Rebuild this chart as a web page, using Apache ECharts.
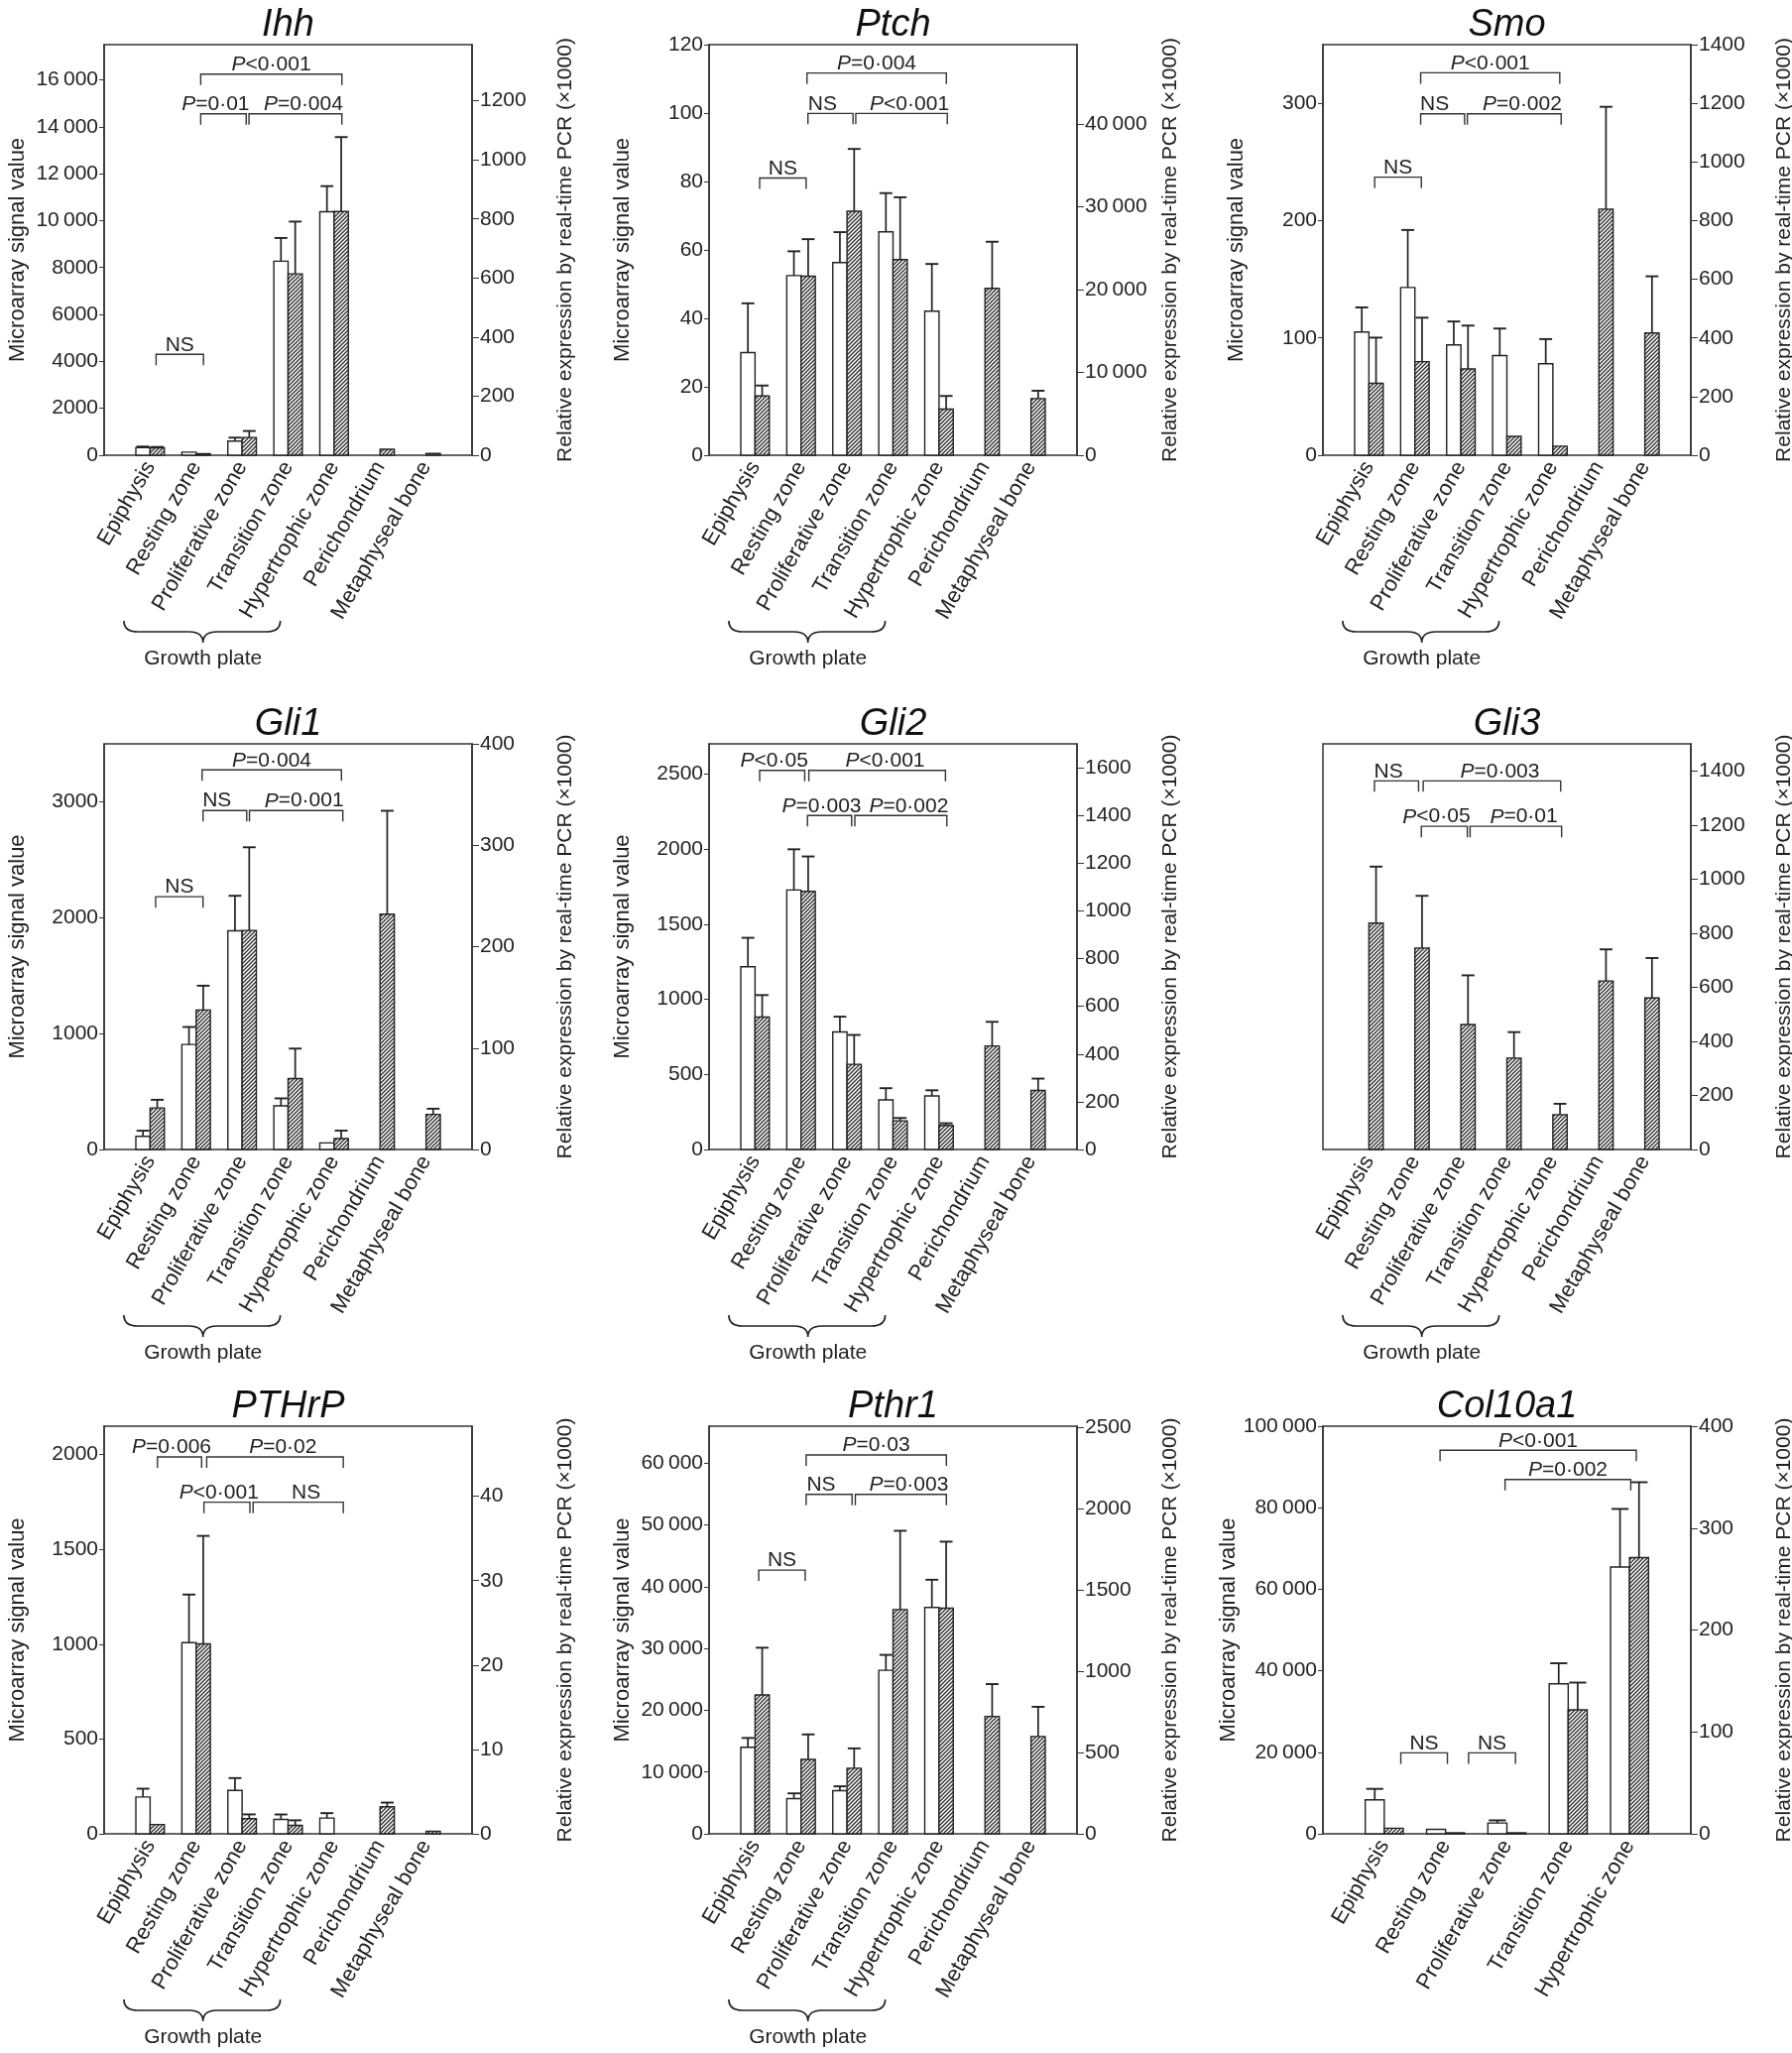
<!DOCTYPE html>
<html>
<head>
<meta charset="utf-8">
<script src="https://cdn.jsdelivr.net/npm/echarts@6/dist/echarts.min.js"></script>
<style>
html, body { margin: 0; background: #fff; }
#chart { width: 1807px; height: 2070px; }
</style>
</head>
<body>
<div id="chart"></div>
<script>
// categories
const zones7 = ['Epiphysis', 'Resting zone', 'Proliferative zone', 'Transition zone', 'Hypertrophic zone', 'Perichondrium', 'Metaphyseal bone'];
const zones5 = zones7.slice(0, 5);

// Ihh : microarray (white, left axis) / real-time PCR (hatched, right axis), mean and SD
const ihhArray = [330, 130, 600, 8270, 10380, null, null];
const ihhArraySd = [40, 0, 150, 990, 1090, null, null];
const ihhPcr = [25, 5, 60, 614, 825, 20, 6];
const ihhPcrSd = [3, 0, 22, 177, 252, 0, 0];
const ihhLeftTicks = [0, 2000, 4000, 6000, 8000, 10000, 12000, 14000, 16000];
const ihhRightTicks = [0, 200, 400, 600, 800, 1000, 1200];
const ihhBrackets = [[1.13, 2.16, 4300, 'NS'], [2.10, 3.09, 14550, 'P=0·01'], [3.15, 5.17, 14550, 'P=0·004'], [2.10, 5.17, 16240, 'P<0·001']];

// Ptch
const ptchArray = [30.0, 52.5, 56.3, 65.3, 42.1, null, null];
const ptchArraySd = [14.4, 7.1, 8.9, 11.3, 13.8, null, null];
const ptchPcr = [7160, 21630, 29470, 23630, 5580, 20160, 6840];
const ptchPcrSd = [1260, 4470, 7530, 7530, 1580, 5630, 950];
const ptchLeftTicks = [0, 20, 40, 60, 80, 100, 120];
const ptchRightTicks = [0, 10000, 20000, 30000, 40000];
const ptchBrackets = [[1.10, 2.11, 81, 'NS'], [2.15, 3.13, 99.9, 'NS'], [3.19, 5.18, 99.9, 'P<0·001'], [2.13, 5.16, 111.7, 'P=0·004']];

// Smo
const smoArray = [105, 143, 94, 85, 78, null, null];
const smoArraySd = [21, 49, 20, 23, 21, null, null];
const smoPcr = [245, 319, 294, 64, 31, 839, 417];
const smoPcrSd = [156, 150, 148, 0, 0, 349, 193];
const smoLeftTicks = [0, 100, 200, 300];
const smoRightTicks = [0, 200, 400, 600, 800, 1000, 1200, 1400];
const smoBrackets = [[1.125, 2.14, 237, 'NS'], [2.125, 3.08, 291, 'NS'], [3.14, 5.18, 291, 'P=0·002'], [2.125, 5.15, 326, 'P<0·001']];

// Gli1
const gli1Array = [113, 906, 1887, 377, 57, null, null];
const gli1ArraySd = [49, 151, 302, 64, 0, null, null];
const gli1Pcr = [41, 137.5, 216, 70, 10.8, 232, 34.6];
const gli1PcrSd = [8, 24, 82, 29.5, 7.8, 102, 5.6];
const gli1LeftTicks = [0, 1000, 2000, 3000];
const gli1RightTicks = [0, 100, 200, 300, 400];
const gli1Brackets = [[1.12, 2.15, 2181, 'NS'], [2.15, 3.10, 2925, 'NS'], [3.16, 5.19, 2925, 'P=0·001'], [2.13, 5.16, 3275, 'P=0·004']];

// Gli2
const gli2Array = [1216, 1727, 782, 330, 356, null, null];
const gli2ArraySd = [193, 271, 102, 78, 38, null, null];
const gli2Pcr = [555, 1082, 357, 120, 101, 434, 247];
const gli2PcrSd = [92, 146, 123, 12, 9, 101, 50];
const gli2LeftTicks = [0, 500, 1000, 1500, 2000, 2500];
const gli2RightTicks = [0, 200, 400, 600, 800, 1000, 1200, 1400, 1600];
const gli2Brackets = [[1.10, 2.08, 2523, 'P<0·05'], [2.17, 5.14, 2523, 'P<0·001'], [2.14, 3.10, 2223, 'P=0·003'], [3.17, 5.17, 2223, 'P=0·002']];

// Gli3 (PCR only)
const gli3Array = [null, null, null, null, null, null, null];
const gli3ArraySd = [null, null, null, null, null, null, null];
const gli3Pcr = [837, 745, 462, 338, 129, 623, 560];
const gli3PcrSd = [209, 193, 182, 96, 40, 117, 148];
const gli3LeftTicks = [];
const gli3RightTicks = [0, 200, 400, 600, 800, 1000, 1200, 1400];
const gli3Brackets = [[1.12, 2.08, 1363, 'NS'], [2.18, 5.17, 1363, 'P=0·003'], [2.14, 3.14, 1195, 'P<0·05'], [3.20, 5.19, 1195, 'P=0·01']];

// PTHrP
const pthrpArray = [194, 1008, 229, 76, 83, null, null];
const pthrpArraySd = [44, 254, 65, 26, 26, null, null];
const pthrpPcr = [1.1, 22.5, 1.8, 1.0, null, 3.2, 0.3];
const pthrpPcrSd = [0, 12.8, 0.5, 0.6, null, 0.5, 0];
const pthrpLeftTicks = [0, 500, 1000, 1500, 2000];
const pthrpRightTicks = [0, 10, 20, 30, 40];
const pthrpBrackets = [[1.16, 2.12, 1988, 'P=0·006'], [2.23, 5.20, 1988, 'P=0·02'], [2.17, 3.17, 1749, 'P<0·001'], [3.24, 5.20, 1749, 'NS']];

// Pthr1
const pthr1Array = [14020, 5690, 6980, 26480, 36660, null, null];
const pthr1ArraySd = [1500, 860, 710, 2490, 4480, null, null];
const pthr1Pcr = [855, 458, 404, 1381, 1389, 723, 599];
const pthr1PcrSd = [291, 154, 122, 485, 410, 199, 183];
const pthr1LeftTicks = [0, 10000, 20000, 30000, 40000, 50000, 60000];
const pthr1RightTicks = [0, 500, 1000, 1500, 2000, 2500];
const pthr1Brackets = [[1.08, 2.09, 42700, 'NS'], [2.11, 3.11, 54950, 'NS'], [3.18, 5.16, 54950, 'P=0·003'], [2.11, 5.16, 61350, 'P=0·03']];

// Col10a1
const col10Array = [8330, 1100, 2650, 36800, 65450];
const col10ArraySd = [2700, 0, 650, 5045, 14250];
const col10Pcr = [5.5, 1, 1, 121.7, 271];
const col10PcrSd = [0, 0, 0, 26.7, 74];
const col10LeftTicks = [0, 20000, 40000, 60000, 80000, 100000];
const col10RightTicks = [0, 100, 200, 300, 400];
const col10Brackets = [[1.27, 2.03, 19850, 'NS'], [2.375, 3.14, 19850, 'NS'], [2.97, 5.02, 86910, 'P=0·002'], [1.91, 5.11, 94100, 'P<0·001']];

const panels = [
  { title: 'Ihh', cats: zones7, arr: ihhArray, arrSd: ihhArraySd, pcr: ihhPcr, pcrSd: ihhPcrSd, lMax: 17500, rMax: 1390, lTicks: ihhLeftTicks, rTicks: ihhRightTicks, brackets: ihhBrackets, brace: true },
  { title: 'Ptch', cats: zones7, arr: ptchArray, arrSd: ptchArraySd, pcr: ptchPcr, pcrSd: ptchPcrSd, lMax: 120, rMax: 49600, lTicks: ptchLeftTicks, rTicks: ptchRightTicks, brackets: ptchBrackets, brace: true },
  { title: 'Smo', cats: zones7, arr: smoArray, arrSd: smoArraySd, pcr: smoPcr, pcrSd: smoPcrSd, lMax: 350, rMax: 1400, lTicks: smoLeftTicks, rTicks: smoRightTicks, brackets: smoBrackets, brace: true },
  { title: 'Gli1', cats: zones7, arr: gli1Array, arrSd: gli1ArraySd, pcr: gli1Pcr, pcrSd: gli1PcrSd, lMax: 3500, rMax: 400, lTicks: gli1LeftTicks, rTicks: gli1RightTicks, brackets: gli1Brackets, brace: true },
  { title: 'Gli2', cats: zones7, arr: gli2Array, arrSd: gli2ArraySd, pcr: gli2Pcr, pcrSd: gli2PcrSd, lMax: 2700, rMax: 1700, lTicks: gli2LeftTicks, rTicks: gli2RightTicks, brackets: gli2Brackets, brace: true },
  { title: 'Gli3', cats: zones7, arr: gli3Array, arrSd: gli3ArraySd, pcr: gli3Pcr, pcrSd: gli3PcrSd, lMax: 1500, rMax: 1500, lTicks: gli3LeftTicks, rTicks: gli3RightTicks, brackets: gli3Brackets, brace: true },
  { title: 'PTHrP', cats: zones7, arr: pthrpArray, arrSd: pthrpArraySd, pcr: pthrpPcr, pcrSd: pthrpPcrSd, lMax: 2150, rMax: 48.3, lTicks: pthrpLeftTicks, rTicks: pthrpRightTicks, brackets: pthrpBrackets, brace: true },
  { title: 'Pthr1', cats: zones7, arr: pthr1Array, arrSd: pthr1ArraySd, pcr: pthr1Pcr, pcrSd: pthr1PcrSd, lMax: 66000, rMax: 2510, lTicks: pthr1LeftTicks, rTicks: pthr1RightTicks, brackets: pthr1Brackets, brace: true },
  { title: 'Col10a1', cats: zones5, arr: col10Array, arrSd: col10ArraySd, pcr: col10Pcr, pcrSd: col10PcrSd, lMax: 100000, rMax: 400, lTicks: col10LeftTicks, rTicks: col10RightTicks, brackets: col10Brackets, brace: false }
];

const FONT = '"Liberation Sans", Arial, Helvetica, sans-serif';
const INK = '#222';
const colLeft = [105, 715, 1334];
const rowTop = [45, 750, 1438];
const rowH = [414, 409, 411];
const boxW = 371;

// thousands with a thin space, as in the figure
function fmt(v) {
  const s = String(v);
  return v >= 10000 ? s.replace(/\B(?=(\d{3})+(?!\d))/g, '\u2009') : s;
}

// diagonal hatch tile for the PCR bars
const hatch = (function () {
  const c = document.createElement('canvas');
  c.width = 4; c.height = 4;
  const g = c.getContext('2d');
  g.fillStyle = '#fff';
  g.fillRect(0, 0, 4, 4);
  g.strokeStyle = '#2a2a2a';
  g.lineWidth = 1.3;
  g.beginPath();
  g.moveTo(-1, 5); g.lineTo(5, -1);
  g.moveTo(-1, 1); g.lineTo(1, -1);
  g.moveTo(3, 5); g.lineTo(5, 3);
  g.stroke();
  return c;
})();

function barRender(side, hatched) {
  return function (params, api) {
    const x = api.value(0), v = api.value(1), sd = api.value(2);
    const p0 = api.coord([x, 0]);
    const p1 = api.coord([x, v]);
    const w = api.size([0.31, 0])[0];
    const left = side < 0 ? p0[0] - w : p0[0];
    const cx = left + w / 2;
    const kids = [{
      type: 'rect',
      shape: { x: left, y: p1[1], width: w, height: Math.max(p0[1] - p1[1], 1) },
      style: { fill: hatched ? { image: hatch, repeat: 'repeat' } : '#fff', stroke: '#222', lineWidth: 1.4 }
    }];
    if (sd > 0) {
      const pe = api.coord([x, v + sd]);
      kids.push({ type: 'line', shape: { x1: cx, y1: p1[1], x2: cx, y2: pe[1] }, style: { stroke: INK, lineWidth: 1.7 } });
      kids.push({ type: 'line', shape: { x1: cx - w * 0.45, y1: pe[1], x2: cx + w * 0.45, y2: pe[1] }, style: { stroke: INK, lineWidth: 1.9 } });
    }
    return { type: 'group', children: kids };
  };
}

function bracketRender(list) {
  return function (params, api) {
    const b = list[params.dataIndex];
    const a = api.coord([b[0], b[2]]);
    const c = api.coord([b[1], b[2]]);
    // labels of two brackets meeting at one junction are pushed apart a little
    let dx = 0;
    list.forEach(function (o) {
      if (o === b || o[2] !== b[2]) return;
      if (Math.abs(o[0] - b[1]) < 0.2) dx -= 8;
      if (Math.abs(o[1] - b[0]) < 0.2) dx += 8;
    });
    return {
      type: 'group',
      children: [{
        type: 'polyline',
        shape: { points: [[a[0], a[1] + 11], [a[0], a[1]], [c[0], c[1]], [c[0], c[1] + 11]] },
        style: { stroke: '#333', lineWidth: 1.4, fill: null }
      }, {
        type: 'text',
        x: (a[0] + c[0]) / 2 + dx,
        y: a[1] + 1,
        style: {
          text: b[3].replace(/^P/, '{i|P}'),
          rich: { i: { fontStyle: 'italic', fontSize: 21, fontFamily: FONT, fill: INK } },
          fontSize: 21, fontFamily: FONT, fill: INK,
          align: 'center', verticalAlign: 'bottom'
        }
      }]
    };
  };
}

function braceRender(params, api) {
  const a = api.coord([0.43, 0]), m = api.coord([2.15, 0]), c = api.coord([3.83, 0]);
  const y0 = a[1] + 167, y1 = y0 + 11, y2 = y0 + 22, r = 14;
  const d = 'M' + a[0] + ' ' + y0 + ' Q' + a[0] + ' ' + y1 + ' ' + (a[0] + r) + ' ' + y1 +
    ' L' + (m[0] - r) + ' ' + y1 + ' Q' + m[0] + ' ' + y1 + ' ' + m[0] + ' ' + y2 +
    ' Q' + m[0] + ' ' + y1 + ' ' + (m[0] + r) + ' ' + y1 +
    ' L' + (c[0] - r) + ' ' + y1 + ' Q' + c[0] + ' ' + y1 + ' ' + c[0] + ' ' + y0;
  return {
    type: 'group',
    children: [{
      type: 'path', shape: { pathData: d }, style: { stroke: '#222', lineWidth: 1.7, fill: null }
    }, {
      type: 'text', x: m[0], y: a[1] + 205,
      style: { text: 'Growth plate', fontSize: 21, fontFamily: FONT, fill: INK, align: 'center', verticalAlign: 'middle' }
    }]
  };
}

const grid = [], xAxis = [], yAxis = [], series = [], graphic = [];
panels.forEach(function (p, k) {
  const col = k % 3, row = Math.floor(k / 3);
  const left = colLeft[col], top = rowTop[row], h = rowH[row];
  const n = p.cats.length;
  grid.push({ left: left, top: top, width: boxW, height: h, show: true, borderColor: '#333', borderWidth: 1.5,
    backgroundColor: 'transparent', containLabel: false, outerBoundsMode: 'none' });
  xAxis.push({
    type: 'value', gridIndex: k, min: 0, max: n + 1, interval: 1,
    axisLine: { show: false }, axisTick: { show: false }, splitLine: { show: false },
    axisLabel: {
      customValues: p.cats.map(function (c, i) { return i + 1; }),
      formatter: function (v) { return p.cats[v - 1] || ''; },
      rotate: 60, margin: 8, fontSize: 22, color: INK, fontFamily: FONT
    }
  });
  const hasLeft = p.lTicks.length > 0;
  yAxis.push({
    type: 'value', gridIndex: k, position: 'left', min: 0, max: p.lMax,
    interval: hasLeft ? p.lTicks[1] : p.lMax, show: hasLeft,
    name: 'Microarray signal value', nameLocation: 'middle', nameRotate: 90, nameGap: 76,
    nameTextStyle: { fontSize: 22, color: INK, fontFamily: FONT },
    axisLine: { show: true, lineStyle: { color: '#333', width: 1.5 } },
    axisTick: { show: true, inside: false, length: 5, customValues: p.lTicks, lineStyle: { color: '#333' } },
    axisLabel: { customValues: p.lTicks, showMinLabel: true, showMaxLabel: true, formatter: fmt, margin: 6, fontSize: 21, color: INK, fontFamily: FONT },
    splitLine: { show: false }
  });
  yAxis.push({
    type: 'value', gridIndex: k, position: 'right', min: 0, max: p.rMax, interval: p.rTicks[1],
    name: 'Relative expression by real-time PCR (\u00d71000)', nameLocation: 'middle', nameRotate: 90, nameGap: 84,
    nameTextStyle: { fontSize: 21, color: INK, fontFamily: FONT },
    axisLine: { show: true, lineStyle: { color: '#333', width: 1.5 } },
    axisTick: { show: true, inside: false, length: 7, customValues: p.rTicks, lineStyle: { color: '#333' } },
    axisLabel: { customValues: p.rTicks, showMinLabel: true, showMaxLabel: true, formatter: fmt, margin: 8, fontSize: 21, color: INK, fontFamily: FONT },
    splitLine: { show: false }
  });
  const yl = 2 * k, yr = 2 * k + 1;
  const white = [], dark = [];
  p.arr.forEach(function (v, i) { if (v !== null) white.push([i + 1, v, p.arrSd[i] || 0]); });
  p.pcr.forEach(function (v, i) { if (v !== null) dark.push([i + 1, v, p.pcrSd[i] || 0]); });
  series.push({ type: 'custom', name: p.title + ' microarray', xAxisIndex: k, yAxisIndex: yl, renderItem: barRender(-1, false), data: white, z: 3 });
  series.push({ type: 'custom', name: p.title + ' PCR', xAxisIndex: k, yAxisIndex: yr, renderItem: barRender(1, true), data: dark, z: 3 });
  series.push({
    type: 'custom', name: p.title + ' P', xAxisIndex: k, yAxisIndex: yl, renderItem: bracketRender(p.brackets), z: 4,
    data: p.brackets.map(function (b) { return [(b[0] + b[1]) / 2, b[2]]; })
  });
  if (p.brace) {
    series.push({ type: 'custom', name: p.title + ' brace', xAxisIndex: k, yAxisIndex: yl, renderItem: braceRender, clip: false, data: [[2.15, 0]] });
  }
  graphic.push({
    type: 'text', x: left + boxW / 2, y: top - 20,
    style: { text: p.title, fontSize: 38, fontStyle: 'italic', fontFamily: FONT, fill: '#111', align: 'center', verticalAlign: 'middle' }
  });
});

const chart = echarts.init(document.getElementById('chart'), null, { renderer: 'canvas' });
chart.setOption({
  backgroundColor: '#fff',
  animation: false,
  grid: grid,
  xAxis: xAxis,
  yAxis: yAxis,
  series: series,
  graphic: graphic
});
</script>
</body>
</html>
